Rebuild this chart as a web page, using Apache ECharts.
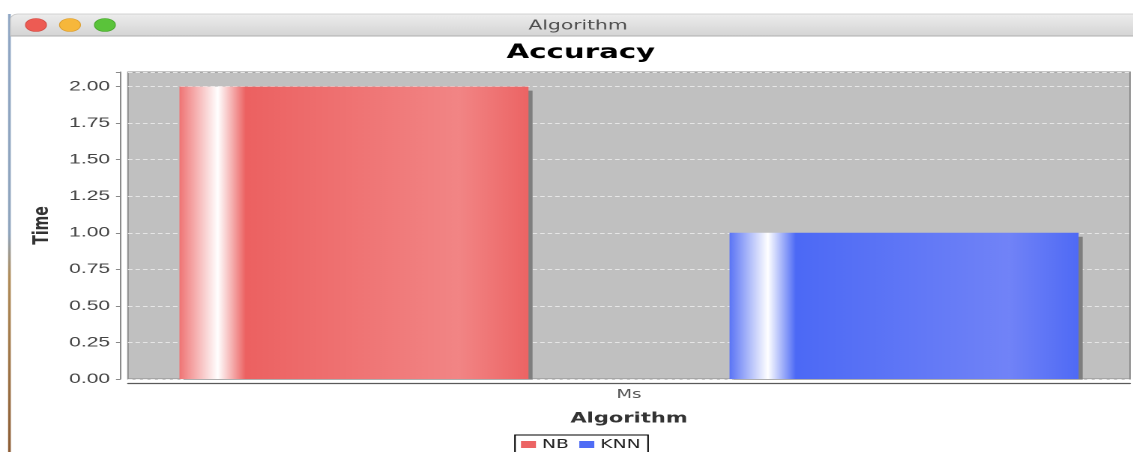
<!DOCTYPE html>
<html lang="en">
<head>
	<meta charset="UTF-8">
	<title>Algorithm</title>
	<script src="https://cdn.jsdelivr.net/npm/echarts@6/dist/echarts.min.js"></script>
	<style>
		html, body { margin: 0; padding: 0; overflow: hidden; background: #fff; }
		/* the source screenshot is stretched sideways, so the chart is drawn narrow and scaled */
		#main { width: 756px; height: 452px; transform: scaleX(1.4987); transform-origin: 0 0; }
	</style>
</head>
<body>
	<div id="main"></div>
<script type="text/javascript">
	// data
	var categories = ['Ms'];
	var seriesNames = ['NB', 'KNN'];
	var nbValues = [2.0];
	var knnValues = [1.0];
	var yMax = 2.1;
	var yStep = 0.25;

	var myChart = echarts.init(document.getElementById('main'), null, {devicePixelRatio: 2});

	function barGradient(edge, main, light, end) {
		return new echarts.graphic.LinearGradient(0, 0, 1, 0, [
			{offset: 0, color: edge},
			{offset: 0.11, color: '#ffffff'},
			{offset: 0.19, color: main},
			{offset: 0.8, color: light},
			{offset: 1, color: end}
		]);
	}

	var noShadow = {shadowBlur: 0, shadowOffsetX: 0, shadowOffsetY: 0, shadowColor: 'rgba(0,0,0,0)'};

	myChart.setOption({
		backgroundColor: '#ffffff',
		animation: false,
		graphic: [
			// desktop edge seen at the far left
			{type: 'rect', shape: {x: 5.4, y: 14, width: 1.8, height: 438}, z: -10,
				style: {fill: new echarts.graphic.LinearGradient(0, 0, 0, 1, [
					{offset: 0, color: '#8fa6c4'}, {offset: 0.5, color: '#8ea4bd'},
					{offset: 0.6, color: '#b08c58'}, {offset: 1, color: '#8c5c34'}])}},
			// window title bar
			{type: 'rect', shape: {x: 7, y: 14, width: 760, height: 22, r: [5, 0, 0, 0]}, z: -5,
				style: {fill: new echarts.graphic.LinearGradient(0, 0, 0, 1, [
					{offset: 0, color: '#ededed'}, {offset: 1, color: '#d4d4d4'}]), stroke: '#c8c8c8', lineWidth: 0.7}},
			{type: 'line', shape: {x1: 7, y1: 36, x2: 766, y2: 36}, style: {stroke: '#b0b0b0', lineWidth: 1}},
			{type: 'ellipse', shape: {cx: 24, cy: 25, rx: 7, ry: 6.5}, style: {fill: '#ed5b53', stroke: '#d24a42', lineWidth: 0.6}},
			{type: 'ellipse', shape: {cx: 46.7, cy: 25, rx: 7, ry: 6.5}, style: {fill: '#f6b73b', stroke: '#dc9d2c', lineWidth: 0.6}},
			{type: 'ellipse', shape: {cx: 70, cy: 25, rx: 7, ry: 6.5}, style: {fill: '#5ac33a', stroke: '#45a42b', lineWidth: 0.6}},
			{type: 'text', x: 385.7, y: 26, style: {text: 'Algorithm', fill: '#4d4d4d', font: '13.5px "DejaVu Sans"', align: 'center', verticalAlign: 'middle'}},
			// gap between plot and x axis line stays white (shadow does not spill there)
			{type: 'rect', shape: {x: 85, y: 379.6, width: 672, height: 3.4}, z: 100, style: {fill: '#ffffff'}}
		],
		title: {
			text: 'Accuracy',
			left: 338,
			top: 43,
			padding: 0,
			textStyle: {fontFamily: 'DejaVu Sans', fontWeight: 'bold', fontSize: 19.5, color: '#000'}
		},
		legend: {
			data: [
				{name: seriesNames[0], itemStyle: Object.assign({color: '#ec6464'}, noShadow)},
				{name: seriesNames[1], itemStyle: Object.assign({color: '#4f6cf5'}, noShadow)}
			],
			icon: 'rect',
			itemWidth: 10,
			itemHeight: 7,
			itemGap: 7,
			left: 343.6,
			top: 435,
			padding: [3, 5, 3, 4],
			borderColor: '#000',
			borderWidth: 1,
			textStyle: {fontFamily: 'DejaVu Sans', fontSize: 12.5, color: '#222', padding: [0, 0, 0, -1]}
		},
		grid: {
			left: 85.4,
			right: 2,
			top: 72,
			bottom: 73,
			show: true,
			backgroundColor: '#c0c0c0',
			borderColor: '#8c8c8c',
			borderWidth: 1,
			containLabel: false
		},
		xAxis: {
			type: 'category',
			data: categories,
			offset: 4,
			z: 120,
			name: 'Algorithm',
			nameLocation: 'middle',
			nameGap: 29,
			nameTextStyle: {fontFamily: 'DejaVu Sans', fontWeight: 'bold', fontSize: 14, color: '#333'},
			axisLine: {show: true, onZero: false, lineStyle: {color: '#5a5a5a', width: 1.2}},
			axisTick: {alignWithLabel: true, length: 2, lineStyle: {color: '#888'}},
			axisLabel: {margin: 6, fontFamily: 'DejaVu Sans', fontSize: 12, color: '#555'},
			splitLine: {show: false}
		},
		yAxis: {
			type: 'value',
			min: 0,
			max: yMax,
			interval: yStep,
			offset: 5,
			name: 'Time',
			nameLocation: 'middle',
			nameGap: 40,
			nameTextStyle: {fontFamily: 'DejaVu Sans', fontWeight: 'bold', fontSize: 14, color: '#333'},
			axisLine: {show: true, onZero: false, lineStyle: {color: '#8a8a8a', width: 1}},
			axisTick: {show: true, length: 3, lineStyle: {color: '#888'}},
			axisLabel: {
				margin: 7,
				fontFamily: 'Liberation Sans',
				fontSize: 14,
				color: '#444',
				formatter: function (v) {
					var k = v / yStep;
					return Math.abs(k - Math.round(k)) < 1e-6 ? v.toFixed(2) : '';
				}
			},
			splitLine: {show: true, lineStyle: {color: '#e6e6e6', width: 1, type: [3, 2]}}
		},
		series: [
			{
				name: seriesNames[0],
				type: 'bar',
				data: nbValues,
				barWidth: 232.9,
				barGap: '57.6%',
				itemStyle: {
					color: barGradient('#ef7474', '#ec6161', '#f28585', '#ec6464'),
					shadowColor: '#7e7e7e',
					shadowBlur: 0,
					shadowOffsetX: 2.7,
					shadowOffsetY: 4
				}
			},
			{
				name: seriesNames[1],
				type: 'bar',
				data: knnValues,
				barWidth: 232.9,
				barGap: '57.6%',
				itemStyle: {
					color: barGradient('#5a74f5', '#4c69f5', '#7183f7', '#4f6af5'),
					shadowColor: '#7e7e7e',
					shadowBlur: 0,
					shadowOffsetX: 2.7,
					shadowOffsetY: 4
				}
			}
		]
	});
</script>
</body>
</html>
